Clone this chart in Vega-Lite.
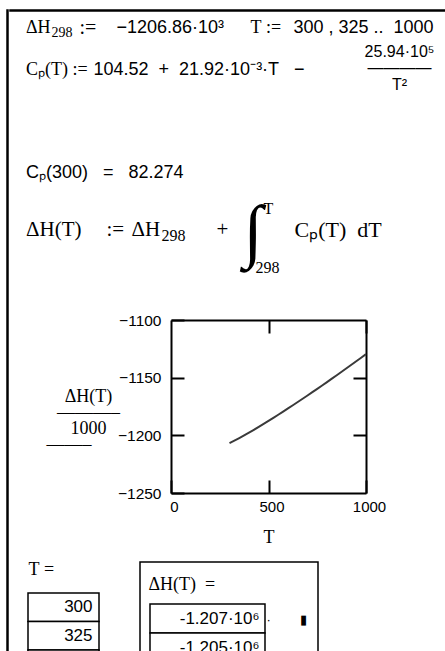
{
  "$schema": "https://vega.github.io/schema/vega-lite/v6.json",
  "background": "white",
  "padding": {"left": 6, "top": 9, "right": 0, "bottom": 0},
  "spacing": 0,
  "config": {"view": {"stroke": null}, "concat": {"spacing": 0}, "text": {"color": "black", "baseline": "middle", "align": "left"}},
  "datasets": {
    "curve": [
      {"T": 300, "H": -1206.70}, {"T": 325, "H": -1204.58}, {"T": 350, "H": -1202.35},
      {"T": 375, "H": -1200.03}, {"T": 400, "H": -1197.64}, {"T": 425, "H": -1195.18},
      {"T": 450, "H": -1192.67}, {"T": 475, "H": -1190.10}, {"T": 500, "H": -1187.50},
      {"T": 525, "H": -1184.85}, {"T": 550, "H": -1182.17}, {"T": 575, "H": -1179.45},
      {"T": 600, "H": -1176.70}, {"T": 625, "H": -1173.93}, {"T": 650, "H": -1171.13},
      {"T": 675, "H": -1168.30}, {"T": 700, "H": -1165.44}, {"T": 725, "H": -1162.57},
      {"T": 750, "H": -1159.67}, {"T": 775, "H": -1156.75}, {"T": 800, "H": -1153.81},
      {"T": 825, "H": -1150.85}, {"T": 850, "H": -1147.87}, {"T": 875, "H": -1144.87},
      {"T": 900, "H": -1141.86}, {"T": 925, "H": -1138.82}, {"T": 950, "H": -1135.77},
      {"T": 975, "H": -1132.70}, {"T": 1000, "H": -1129.61}
    ],
    "rows": [
      {"T": 300, "shown": "-1.207·10⁶"},
      {"T": 325, "shown": "-1.205·10⁶"},
      {"T": 350, "shown": "-1.202·10⁶"},
      {"T": 375, "shown": "-1.2·10⁶"}
    ],
    "none": [],
    "one": [{}]
  },
  "hconcat": [
    {"data": {"name": "none"}, "mark": "point", "width": 1, "height": 700, "view": {"stroke": "black", "strokeWidth": 1.5}},
    {
      "spacing": 0,
      "vconcat": [
        {"data": {"name": "none"}, "mark": "point", "width": 440, "height": 1, "view": {"stroke": "black", "strokeWidth": 1.5}},
        {
          "spacing": 0,
          "hconcat": [
            {"data": {"name": "one"}, "width": 32, "height": 31, "mark": {"type": "text", "text": "ΔH", "font": "Liberation Serif", "fontSize": 18}},
            {"data": {"name": "one"}, "width": 1, "height": 31, "mark": {"type": "text", "text": "298", "dy": 5, "font": "Liberation Serif", "fontSize": 14}},
            {"data": {"name": "none"}, "mark": "point", "width": 6, "height": 1},
            {"data": {"name": "one"}, "width": 1, "height": 31, "mark": {"type": "text", "text": ":=", "font": "Liberation Serif", "fontSize": 20}},
            {"data": {"name": "none"}, "mark": "point", "width": 19, "height": 1},
            {"data": {"name": "one"}, "width": 1, "height": 31, "mark": {"type": "text", "text": "−1206.86·10³", "font": "Liberation Sans", "fontSize": 18}},
            {"data": {"name": "none"}, "mark": "point", "width": 25, "height": 1},
            {"data": {"name": "one"}, "width": 1, "height": 31, "mark": {"type": "text", "text": "T\u00a0:=", "font": "Liberation Serif", "fontSize": 18}},
            {"data": {"name": "none"}, "mark": "point", "width": 11, "height": 1},
            {"data": {"name": "one"}, "width": 1, "height": 31, "mark": {"type": "text", "text": "300\u00a0,\u00a0325\u00a0..\u00a0\u00a01000", "font": "Liberation Sans", "fontSize": 18}}
          ]
        },
        {
          "spacing": 0,
          "hconcat": [
            {"data": {"name": "one"}, "width": 32, "height": 53, "mark": {"type": "text", "text": "Cₚ(T)\u00a0:=", "font": "Liberation Serif", "fontSize": 18}},
            {"data": {"name": "none"}, "mark": "point", "width": 5, "height": 1},
            {"data": {"name": "one"}, "width": 1, "height": 53, "mark": {"type": "text", "text": "104.52\u00a0\u00a0+\u00a0\u00a021.92·10⁻³·T\u00a0\u00a0\u00a0−", "font": "Liberation Sans", "fontSize": 18}},
            {"data": {"name": "none"}, "mark": "point", "width": 59, "height": 1},
            {"data": {"name": "one"}, "width": 1, "height": 17, "mark": {"type": "text", "text": ["25.94·10⁵", "————", "T²"], "align": "center", "lineHeight": 16.5, "font": "Liberation Sans", "fontSize": 16}}
          ]
        },
        {"data": {"name": "none"}, "mark": "point", "width": 1, "height": 61.5},
        {"data": {"name": "one"}, "width": 32, "height": 30, "mark": {"type": "text", "text": "Cₚ(300)\u00a0\u00a0\u00a0=\u00a0\u00a0\u00a082.274", "font": "Liberation Sans", "fontSize": 18}},
        {
          "spacing": 0,
          "hconcat": [
            {"data": {"name": "one"}, "width": 32, "height": 84, "mark": {"type": "text", "text": "ΔH(T)", "font": "Liberation Serif", "fontSize": 21}},
            {"data": {"name": "none"}, "mark": "point", "width": 24, "height": 1},
            {"data": {"name": "one"}, "width": 1, "height": 84, "mark": {"type": "text", "text": ":=", "font": "Liberation Serif", "fontSize": 21}},
            {"data": {"name": "none"}, "mark": "point", "width": 6, "height": 1},
            {"data": {"name": "one"}, "width": 1, "height": 84, "mark": {"type": "text", "text": "ΔH", "font": "Liberation Serif", "fontSize": 21}},
            {"data": {"name": "one"}, "width": 1, "height": 84, "mark": {"type": "text", "text": "298", "dy": 6, "font": "Liberation Serif", "fontSize": 16}},
            {"data": {"name": "none"}, "mark": "point", "width": 30, "height": 1},
            {"data": {"name": "one"}, "width": 1, "height": 84, "mark": {"type": "text", "text": "+", "font": "Liberation Serif", "fontSize": 21}},
            {"data": {"name": "none"}, "mark": "point", "width": 14, "height": 1},
            {
              "data": {"name": "one"}, "width": 1, "height": 89,
              "layer": [
                {"mark": {"type": "text", "text": "∫", "font": "Liberation Serif", "fontSize": 70}},
                {"mark": {"type": "text", "text": "T", "align": "center", "dx": 25, "dy": -23.5, "font": "Liberation Serif", "fontSize": 16}},
                {"mark": {"type": "text", "text": "298", "align": "center", "dx": 24, "dy": 35, "font": "Liberation Serif", "fontSize": 16}}
              ]
            },
            {"data": {"name": "none"}, "mark": "point", "width": 14, "height": 1},
            {"data": {"name": "one"}, "width": 1, "height": 84, "mark": {"type": "text", "text": "Cₚ(T)\u00a0\u00a0dT", "font": "Liberation Serif", "fontSize": 22}}
          ]
        },
        {"data": {"name": "none"}, "mark": "point", "width": 1, "height": 36},
        {
          "spacing": 0,
          "hconcat": [
            {"data": {"name": "none"}, "mark": "point", "width": 36, "height": 1},
            {
              "width": 195,
              "height": 173,
              "data": {"name": "curve"},
              "layer": [
                {
                  "mark": {"type": "line", "stroke": "#3a3a3a", "strokeWidth": 2},
                  "encoding": {
                    "x": {
                      "field": "T", "type": "quantitative",
                      "scale": {"domain": [0, 1000], "nice": false, "zero": false},
                      "axis": {
                        "orient": "bottom", "values": [0, 500, 1000], "grid": false,
                        "tickSize": -13, "tickWidth": 2, "tickColor": "black",
                        "domainColor": "black", "domainWidth": 2,
                        "labelFont": "Liberation Sans", "labelFontSize": 15, "labelColor": "black",
                        "labelPadding": 19, "labelFlush": false, "labelOffset": 3, "format": "d",
                        "title": "T", "titleFont": "Liberation Serif", "titleFontSize": 18,
                        "titleFontWeight": "normal", "titleColor": "black", "titlePadding": 14
                      }
                    },
                    "y": {
                      "field": "H", "type": "quantitative",
                      "scale": {"domain": [-1250, -1100], "nice": false, "zero": false},
                      "axis": {
                        "orient": "left", "values": [-1250, -1200, -1150, -1100], "grid": false,
                        "tickSize": -13, "tickWidth": 2, "tickColor": "black",
                        "domainColor": "black", "domainWidth": 2,
                        "labelFont": "Liberation Sans", "labelFontSize": 15.5, "labelColor": "black",
                        "labelPadding": 23, "labelFlush": false, "format": "d",
                        "title": ["ΔH(T)", "———–", "1000", "——–\u2800\u2800\u2800"],
                        "titleFont": "Liberation Serif", "titleFontSize": 18, "titleFontWeight": "normal",
                        "titleColor": "black", "titleAngle": 0, "titleAlign": "center",
                        "titleBaseline": "alphabetic", "titleX": -83, "titleY": 81, "titleLineHeight": 16
                      }
                    }
                  }
                },
                {
                  "mark": {"type": "line", "opacity": 0},
                  "encoding": {
                    "x": {
                      "field": "T", "type": "quantitative",
                      "axis": {
                        "orient": "top", "values": [500, 1000], "labels": false, "title": null, "grid": false,
                        "tickSize": -13, "tickWidth": 2, "tickColor": "black",
                        "domainColor": "black", "domainWidth": 2
                      }
                    },
                    "y": {
                      "field": "H", "type": "quantitative",
                      "axis": {
                        "orient": "right", "values": [-1200, -1150], "labels": false, "title": null, "grid": false,
                        "tickSize": -13, "tickWidth": 2, "tickColor": "black",
                        "domainColor": "black", "domainWidth": 2
                      }
                    }
                  }
                }
              ],
              "resolve": {"axis": {"x": "independent", "y": "independent"}}
            }
          ]
        },
        {"data": {"name": "none"}, "mark": "point", "width": 1, "height": 15},
        {
          "spacing": 0,
          "hconcat": [
            {"data": {"name": "none"}, "mark": "point", "width": 17, "height": 1},
            {
              "spacing": 13,
              "vconcat": [
                {"data": {"name": "one"}, "width": 1, "height": 16, "mark": {"type": "text", "text": "T\u00a0=", "font": "Liberation Serif", "fontSize": 18}},
                {
                  "width": 71,
                  "height": {"step": 28.5},
                  "data": {"name": "rows"},
                  "encoding": {
                    "y": {"field": "T", "type": "ordinal", "axis": null, "scale": {"paddingInner": 0, "paddingOuter": 0}}
                  },
                  "layer": [
                    {"mark": {"type": "rect", "fill": "white", "stroke": "black", "strokeWidth": 1.5}},
                    {
                      "mark": {"type": "text", "align": "right", "dx": 29, "font": "Liberation Sans", "fontSize": 17},
                      "encoding": {"text": {"field": "T", "type": "quantitative"}}
                    }
                  ]
                }
              ]
            },
            {"data": {"name": "none"}, "mark": "point", "width": 39, "height": 1},
            {
              "width": 178,
              "height": 160,
              "view": {"stroke": "black", "strokeWidth": 1.5},
              "layer": [
                {
                  "data": {"name": "rows"},
                  "mark": {"type": "rect", "fill": "white", "stroke": "black", "strokeWidth": 1.5},
                  "encoding": {
                    "x": {"datum": "ΔH(T)", "type": "nominal", "axis": null, "scale": {"paddingInner": 0, "paddingOuter": 0.2739, "align": 0.1587}},
                    "y": {"field": "T", "type": "ordinal", "axis": null, "scale": {"domain": ["hdr", 300, 325, 350, 375], "paddingInner": 0, "paddingOuter": 0.259, "align": 0.867}}
                  }
                },
                {
                  "data": {"name": "rows"},
                  "mark": {"type": "text", "align": "right", "dx": 52, "font": "Liberation Sans", "fontSize": 17},
                  "encoding": {
                    "x": {"datum": "ΔH(T)", "type": "nominal", "axis": null},
                    "y": {"field": "T", "type": "ordinal", "axis": null},
                    "text": {"field": "shown", "type": "nominal"}
                  }
                },
                {
                  "data": {"name": "one"},
                  "mark": {"type": "text", "text": "·\u2003\u2003\u00a0▮", "dx": 59, "dy": 1, "font": "Liberation Sans", "fontSize": 13},
                  "encoding": {
                    "x": {"datum": "ΔH(T)", "type": "nominal", "axis": null},
                    "y": {"datum": 300, "type": "ordinal", "axis": null}
                  }
                },
                {
                  "data": {"name": "one"},
                  "mark": {"type": "text", "text": "ΔH(T)\u00a0\u00a0=", "baseline": "alphabetic", "dx": -59, "font": "Liberation Serif", "fontSize": 18},
                  "encoding": {
                    "x": {"datum": "ΔH(T)", "type": "nominal", "axis": null},
                    "y": {"datum": "hdr", "type": "ordinal", "axis": null}
                  }
                }
              ]
            }
          ]
        }
      ]
    }
  ]
}
